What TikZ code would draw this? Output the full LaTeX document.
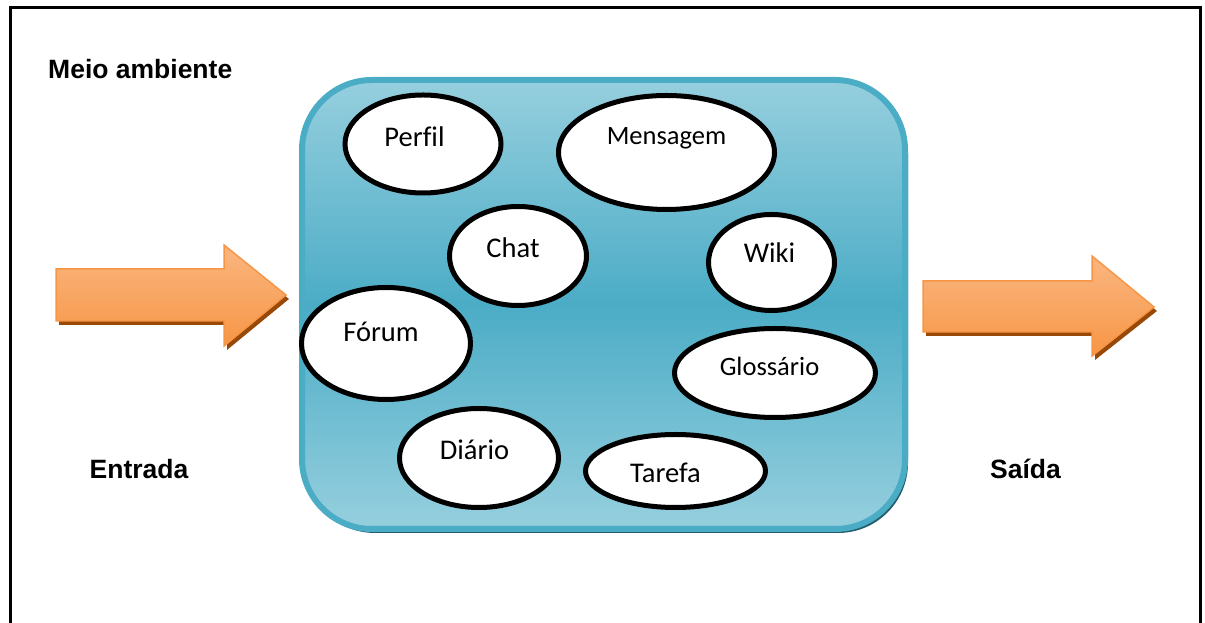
\documentclass[tikz,border=0pt]{standalone}
\usepackage{fontspec}
\newfontfamily\calibri[Ligatures=NoCommon]{Carlito}
\newfontfamily\arial{Liberation Sans}
\usetikzlibrary{shapes.geometric, shadows}

\definecolor{azulborda}{RGB}{75,172,198}
\definecolor{azulclaro}{RGB}{150,207,222}
\definecolor{azulsombra}{RGB}{35,94,110}
\definecolor{laranja}{RGB}{247,150,70}
\definecolor{laranjaclaro}{RGB}{250,182,128}
\definecolor{marrom}{RGB}{152,72,7}

\tikzset{
  ambiente/.style={rectangle, rounded corners=70pt, draw=azulborda, line width=6pt,
    top color=azulclaro, bottom color=azulclaro, middle color=azulborda,
    drop shadow={shadow xshift=3pt, shadow yshift=-4pt, fill=azulsombra, opacity=1},
    inner sep=0pt},
  bolha/.style={ellipse, draw=black, line width=5pt, fill=white, inner sep=0pt},
  rotulo/.style={font=\calibri\fontsize{28.5}{32}\selectfont, anchor=base, inner sep=0pt},
  titulo/.style={font=\arial\bfseries\fontsize{26.5}{30}\selectfont, anchor=base, inner sep=0pt},
  seta/.style={draw=laranja, line width=1.5pt, top color=laranjaclaro, bottom color=laranja,
    drop shadow={shadow xshift=3pt, shadow yshift=-4pt, fill=marrom, opacity=1}}
}

\begin{document}
\begin{tikzpicture}[x=1pt, y=1pt]
  \useasboundingbox (0,0) rectangle (1205,623);

  % moldura aberta embaixo
  \draw[line width=3pt] (10.5,-5) -- (10.5,615.5) -- (1200.5,615.5) -- (1200.5,-5);

  % ambiente virtual
  \node[ambiente, minimum width=603pt, minimum height=449pt] (amb) at (603.5,318.5) {};

  % ferramentas
  \node[bolha, minimum width=156pt, minimum height=98pt]  (perfil)   at (423,479)   {};
  \node[bolha, minimum width=216pt, minimum height=114pt] (mensagem) at (666.5,470.5) {};
  \node[bolha, minimum width=137pt, minimum height=99pt]  (chat)     at (518,367)   {};
  \node[bolha, minimum width=126pt, minimum height=96pt]  (wiki)     at (771.5,360.5) {};
  \node[bolha, minimum width=169pt, minimum height=112pt] (forum)    at (386,279.5) {};
  \node[bolha, minimum width=201pt, minimum height=89pt]  (glossario) at (775,250)  {};
  \node[bolha, minimum width=159pt, minimum height=99pt]  (diario)   at (479,165)   {};
  \node[bolha, minimum width=180pt, minimum height=73pt]  (tarefa)   at (675.5,152) {};

  \node[rotulo] (tperfil)   at (414.5,476) {Perfil};
  \node[rotulo, font=\calibri\fontsize{26.5}{30}\selectfont] (tmensagem) at (666.5,478) {Mensagem};
  \node[rotulo] (tchat)     at (513,365)   {Chat};
  \node[rotulo] (twiki)     at (769.5,360) {Wiki};
  \node[rotulo] (tforum)    at (381,281)   {Fórum};
  \node[rotulo, font=\calibri\fontsize{26.5}{30}\selectfont] (tglossario) at (769.5,247) {Glossário};
  \node[rotulo] (tdiario)   at (474.5,163) {Diário};
  \node[rotulo] (ttarefa)   at (665.5,140) {Tarefa};

  % setas de entrada e saida
  \draw[seta] (56,354) -- (224,354) -- (224,378) -- (286,328) -- (224,277) -- (224,302) -- (56,302) -- cycle;
  \draw[seta] (923,342) -- (1092,342) -- (1092,367) -- (1154,316) -- (1092,267) -- (1092,291) -- (923,291) -- cycle;

  \node[titulo, anchor=base west] (meio) at (48,544) {Meio ambiente};
  \node[titulo] (entrada) at (139,144)    {Entrada};
  \node[titulo] (saida)   at (1025.5,144) {Saída};
\end{tikzpicture}
\end{document}
